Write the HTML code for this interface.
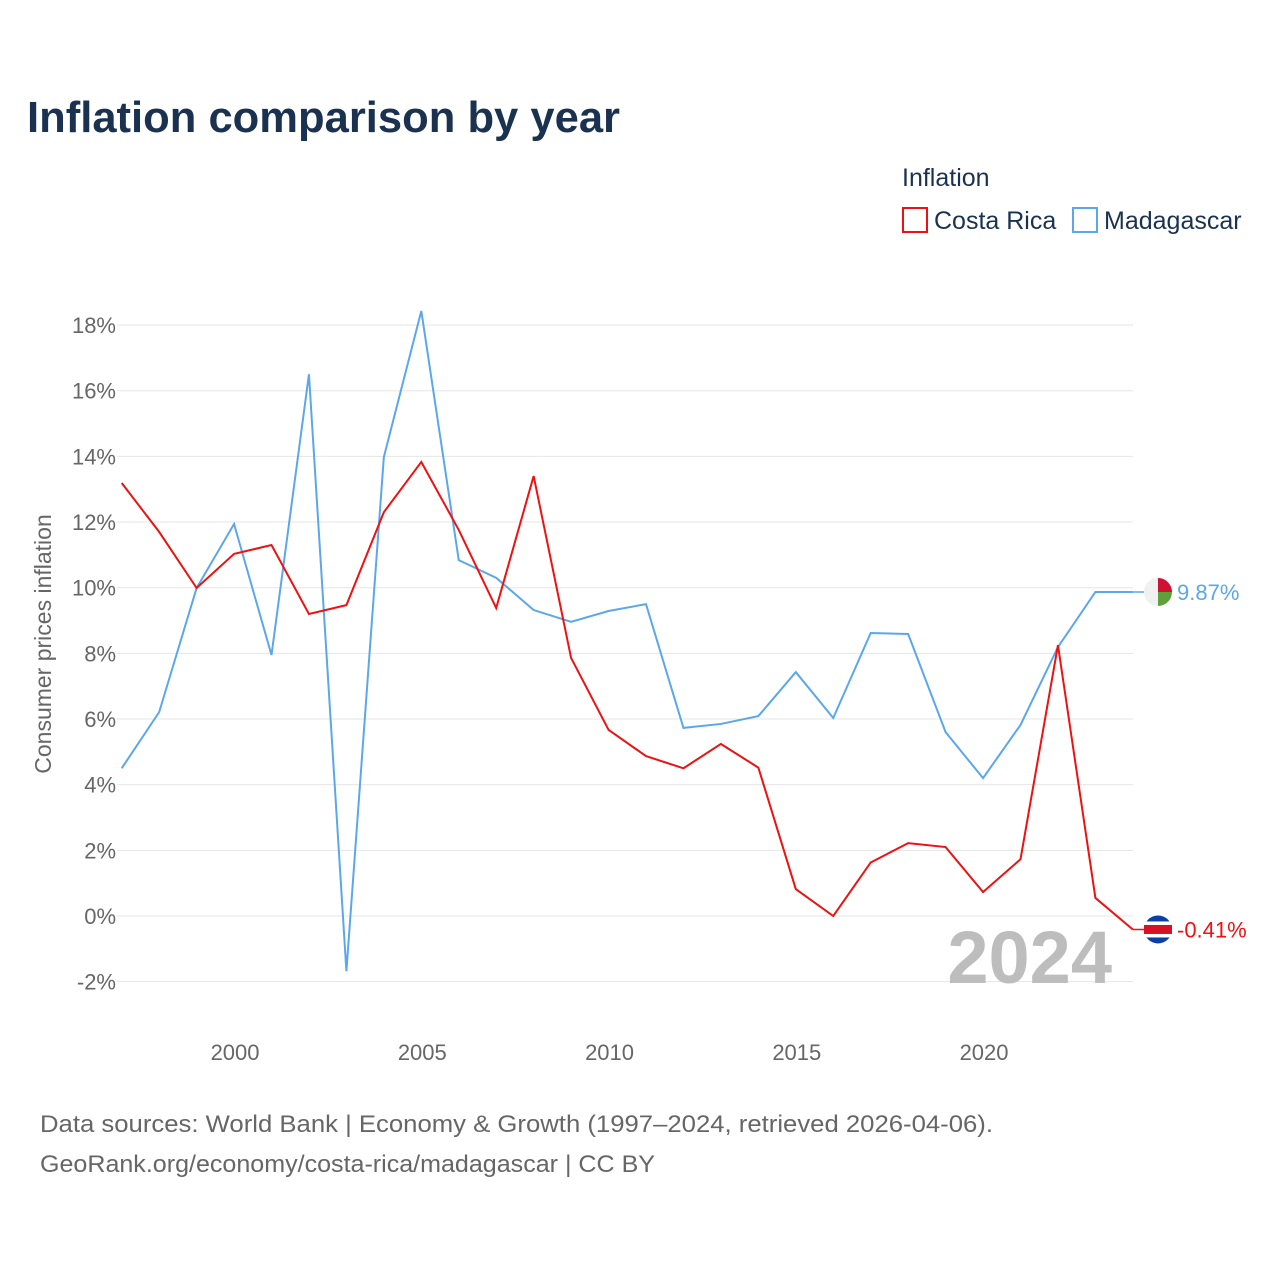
<!DOCTYPE html>
<html><head><meta charset="utf-8"><style>
body{margin:0;background:#fff;font-family:"Liberation Sans",sans-serif}
svg text{font-family:"Liberation Sans",sans-serif}
</style></head><body>
<svg id="c" width="1280" height="1280" viewBox="0 0 1280 1280" xmlns="http://www.w3.org/2000/svg">
<text x="27" y="132" font-size="44" font-weight="bold" fill="#1a3150" textLength="593" lengthAdjust="spacingAndGlyphs">Inflation comparison by year</text>
<text x="902" y="186" font-size="25" fill="#1a3150">Inflation</text>
<g><rect x="903" y="208" width="24" height="24" fill="none" stroke="#ee1111" stroke-width="2"/><text x="934" y="229" font-size="25" fill="#1a3150">Costa Rica</text></g>
<g><rect x="1073" y="208" width="24" height="24" fill="none" stroke="#5ba7ea" stroke-width="2"/><text x="1104" y="229" font-size="25" fill="#1a3150">Madagascar</text></g>
<g id="grid"></g><g id="lines"></g>
<text x="1112" y="983" font-size="74" font-weight="bold" fill="#bdbdbd" text-anchor="end">2024</text>
<text transform="translate(51,644) rotate(-90)" font-size="23" fill="#666" text-anchor="middle">Consumer prices inflation</text>
<text x="40" y="1132" font-size="24" fill="#666" textLength="953" lengthAdjust="spacingAndGlyphs">Data sources: World Bank | Economy &amp; Growth (1997–2024, retrieved 2026-04-06).</text>
<text x="40" y="1172" font-size="24" fill="#666" textLength="615" lengthAdjust="spacingAndGlyphs">GeoRank.org/economy/costa-rica/madagascar | CC BY</text>
</svg>
<script>
const years=[1997,1998,1999,2000,2001,2002,2003,2004,2005,2006,2007,2008,2009,2010,2011,2012,2013,2014,2015,2016,2017,2018,2019,2020,2021,2022,2023,2024];
const costaRica=[13.19,11.7,9.99,11.03,11.3,9.2,9.47,12.3,13.83,11.76,9.38,13.4,7.86,5.67,4.87,4.5,5.24,4.52,0.82,0.0,1.63,2.22,2.1,0.73,1.73,8.25,0.55,-0.41];
const madagascar=[4.5,6.21,9.99,11.94,7.95,16.5,-1.68,13.98,18.43,10.84,10.3,9.32,8.96,9.29,9.5,5.73,5.85,6.09,7.43,6.03,8.62,8.59,5.6,4.2,5.82,8.19,9.87,9.87];
const yTicks=[-2,0,2,4,6,8,10,12,14,16,18];
const xTicks=[2000,2005,2010,2015,2020];
const NS="http://www.w3.org/2000/svg";
const X=y=>121.7+(y-1997)*37.45;
const Y=v=>916-v*32.83;
function mk(t,a,p){const e=document.createElementNS(NS,t);for(const k in a)e.setAttribute(k,a[k]);p.appendChild(e);return e;}
const g=document.getElementById('grid'),L=document.getElementById('lines');
yTicks.forEach(v=>{
 const l=mk('line',{x1:117,x2:1133,y1:Y(v),y2:Y(v),stroke:'#e6e6e6','stroke-width':1},g);
 
 
 const t=mk('text',{x:116,y:Y(v)+8,'font-size':22,fill:'#666','text-anchor':'end'},g);
 t.textContent=v+'%';
 
 
});
xTicks.forEach(v=>{
 const t=mk('text',{x:X(v)+1,y:1060,'font-size':22,fill:'#666','text-anchor':'middle'},g);
 t.textContent=v;
 
 
});
function series(vals,col,name,label){
 const p=mk('polyline',{points:vals.map((v,i)=>X(years[i])+','+Y(v)).join(' '),fill:'none',stroke:col,'stroke-width':2},L);
 
 
 const last=vals[vals.length-1];
 mk('line',{x1:X(2024),x2:1150,y1:Y(last),y2:Y(last),stroke:col,'stroke-width':1.5},L);
 const t=mk('text',{x:1177,y:Y(last)+8,'font-size':22,fill:col},L);
 t.textContent=label;
 
 
 return Y(last);
}
const ym=series(madagascar,'#5ba7ea','madagascar',madagascar[madagascar.length-1].toFixed(2)+'%');
const yc=series(costaRica,'#ee1111','costa-rica',costaRica[costaRica.length-1].toFixed(2)+'%');
const fm=mk('g',{},L);


mk('circle',{cx:1158,cy:ym,r:14,fill:'#f0f0f0'},fm);
mk('path',{d:`M1158 ${ym-14} A14 14 0 0 1 1172 ${ym} L1158 ${ym} Z`,fill:'#d21034'},fm);
mk('path',{d:`M1158 ${ym} L1172 ${ym} A14 14 0 0 1 1158 ${ym+14} Z`,fill:'#5fa03a'},fm);
const fc=mk('g',{},L);


mk('circle',{cx:1158,cy:yc,r:14,fill:'#0b3fa8'},fc);
mk('rect',{x:1144,y:yc-8,width:28,height:16,fill:'#fff'},fc);
mk('rect',{x:1144,y:yc-4.5,width:28,height:9,fill:'#d91023'},fc);
</script>
</body></html>
